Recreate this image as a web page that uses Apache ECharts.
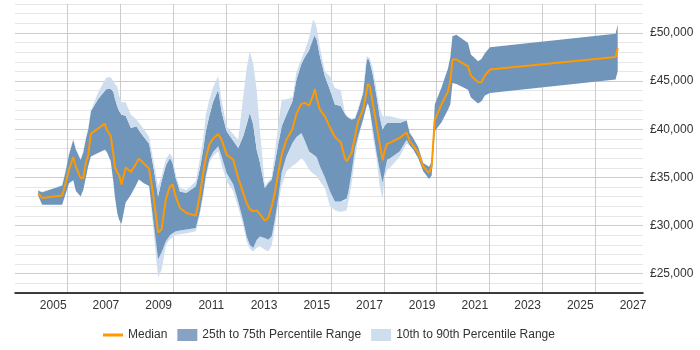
<!DOCTYPE html>
<html>
<head>
<meta charset="utf-8">
<script src="https://cdn.jsdelivr.net/npm/echarts@6/dist/echarts.min.js"></script>
<style>
  html, body { margin: 0; padding: 0; background: #fff; }
  #chart { width: 700px; height: 350px; }
</style>
</head>
<body>
<div id="chart"></div>
<script>
// sample dates (decimal years)
const years = [
  2004.43, 2004.58, 2005.34, 2005.46, 2005.60, 2005.76, 2005.86, 2006.04, 2006.14, 2006.24,
  2006.33, 2006.43, 2006.70, 2006.96, 2007.04, 2007.18, 2007.28, 2007.34, 2007.43, 2007.50,
  2007.59, 2007.75, 2007.95, 2008.16, 2008.25, 2008.44, 2008.64, 2008.82, 2008.98, 2009.11,
  2009.28, 2009.43, 2009.53, 2009.65, 2009.81, 2010.06, 2010.41, 2010.57, 2010.69, 2010.79,
  2010.92, 2011.06, 2011.26, 2011.39, 2011.58, 2011.83, 2012.02, 2012.21, 2012.34, 2012.46,
  2012.59, 2012.72, 2012.84, 2013.03, 2013.16, 2013.29, 2013.41, 2013.54, 2013.67, 2013.85,
  2014.08, 2014.23, 2014.42, 2014.55, 2014.71, 2014.86, 2014.93, 2015.00, 2015.12, 2015.31,
  2015.50, 2015.69, 2015.91, 2016.07, 2016.13, 2016.19, 2016.32, 2016.45, 2016.57, 2016.76,
  2016.89, 2016.94, 2017.01, 2017.14, 2017.27, 2017.39, 2017.50, 2017.58, 2017.67, 2017.77,
  2018.15, 2018.41, 2018.53, 2018.66, 2018.85, 2019.04, 2019.26, 2019.36, 2019.48, 2019.73,
  2019.98, 2020.07, 2020.15, 2020.30, 2020.74, 2020.85, 2021.12, 2021.25, 2021.38, 2021.57,
  2026.34, 2026.42
]
const median = [
  33380, 32860, 33130, 34300, 35800, 37120, 36100, 34940, 34940, 36500,
  37360, 39540, 40060, 40580, 39900, 39330, 37500, 36080, 35500, 35280,
  34250, 36040, 35560, 36500, 36950, 36450, 35900, 32690, 29290, 29570,
  32800, 34070, 34250, 33000, 31830, 31300, 31030, 33200, 35460, 37000,
  38400, 39000, 39510, 38920, 37360, 36840, 34940, 33400, 32340, 31700,
  31470, 31575, 31200, 30500, 30785, 32000, 33380, 35500, 37360, 38920,
  40030, 41620, 42660, 42730, 42450, 43500, 44180, 43200, 42030, 41340,
  40200, 39200, 38640, 37000, 36665, 36900, 37540, 39200, 40820, 42030,
  43900, 44735, 44460, 42500, 40476, 38500, 36770, 37800, 38500, 38575,
  39095, 39680, 38740, 38300, 37540, 36150, 35460, 36150, 41000, 42560,
  43935, 45000, 47230, 47230, 46530, 45565, 44870, 44870, 45565, 46190,
  47500, 48440
]
const p25 = [
  33100, 32170, 32170, 33200, 34400, 34700, 33600, 33030, 33700, 35000,
  36200, 37180, 37530, 37880, 37600, 36700, 34600, 33030, 31300, 30600,
  30200, 32400, 33200, 34300, 34770, 34400, 34100, 30000, 26500, 27200,
  28400, 29000, 29200, 29400, 29500, 29600, 29750, 31500, 33380, 35200,
  36840, 37600, 38225, 37200, 35460, 34300, 32500, 30500, 28875, 28000,
  27670, 28500, 28875, 28700, 28530, 28900, 30610, 32900, 35500, 37200,
  38600, 39200, 39600, 38800, 37700, 37400, 37300, 37100, 36150, 35000,
  33550, 32510, 32510, 32600, 32800, 33380, 35460, 38000, 39300, 41000,
  42380, 42700, 42030, 39800, 37540, 35800, 34420, 35600, 36840, 36950,
  37710, 38920, 38300, 37900, 37000, 35630, 34840, 35200, 39800, 40700,
  42030, 42600, 44800, 44700, 44110, 43300, 42660, 42900, 43500, 43770,
  45150, 46010
]
const p75 = [
  33650, 33450, 34170, 35500, 37400, 38920, 37900, 36840, 37600, 39000,
  40000, 41860, 43100, 44000, 44200, 44200, 43900, 43200, 42380, 41900,
  41500, 41400, 40130, 40300, 39900, 39200, 38500, 35800, 33030, 34600,
  36300, 37010, 36500, 34900, 33500, 33400, 34070, 36000, 37880, 39800,
  41340, 42800, 44110, 41800, 39780, 38800, 38055, 39260, 40500, 41700,
  40500, 37880, 36600, 33900, 34400, 34760, 36500, 38500, 40300, 41500,
  42900, 45150, 46800, 47500, 48200, 50000, 49800, 49300, 47570, 45490,
  44110, 42560, 42400, 41600, 41340, 41200, 41000, 41100, 42000, 43770,
  47050, 47400, 47000, 45490, 43415, 41300, 39960, 40400, 40650, 40650,
  40650, 40920, 39610, 39100, 38150, 36500, 36100, 36600, 42600, 44300,
  46300, 47500, 49650, 49820, 48960, 47750, 47050, 47300, 47900, 48500,
  49900, 50860
]
const p10 = [
  33100, 32170, 32170, 33200, 34400, 34700, 33600, 33030, 33700, 35000,
  36200, 37180, 37530, 37880, 37600, 36700, 34600, 33030, 31300, 30600,
  30200, 32400, 33200, 34300, 34770, 34400, 34100, 29000, 24600, 25400,
  28000, 28600, 28800, 29050, 29100, 29200, 29400, 31200, 33030, 34800,
  36500, 37200, 37710, 36300, 34590, 33600, 31900, 30000, 28355, 27600,
  27320, 27700, 27840, 27500, 27320, 27900, 29910, 32200, 34200, 35600,
  36200, 36500, 37000, 36600, 35800, 35400, 35300, 35140, 34600, 33900,
  32000, 31600, 31410, 31410, 31600, 32340, 34300, 37000, 38920, 41000,
  42380, 42700, 42030, 39000, 37000, 34070, 32790, 35000, 35800, 35980,
  37180, 38500, 38300, 37900, 37000, 35630, 34840, 35200, 39800, 40700,
  42030, 42600, 44800, 44700, 44110, 43300, 42660, 42900, 43500, 43770,
  45150, 46010
]
const p90 = [
  33700, 33500, 34200, 35600, 37500, 39000, 38000, 36900, 37700, 39100,
  40100, 41950, 43800, 45100, 45400, 45400, 45000, 44700, 44450, 43500,
  42800, 42800, 41500, 41000, 40700, 40000, 39200, 36500, 34070, 35100,
  36900, 37540, 37000, 35300, 33900, 33700, 34590, 37000, 39000, 41500,
  43000, 44300, 45490, 43000, 40300, 39500, 38920, 43400, 46300, 48090,
  46800, 44110, 40000, 34100, 34600, 35000, 37540, 40500, 43070, 43100,
  43300, 46000, 47300, 48200, 49500, 51380, 51100, 50500, 48500, 46000,
  45490, 44290, 44040, 41690, 41500, 41300, 41100, 41200, 42200, 44000,
  47570, 47570, 47400, 46190, 44000, 42200, 41340, 41340, 41340, 41340,
  41100, 41000, 39700, 39100, 38150, 36500, 36100, 36600, 42600, 44300,
  46300, 47500, 49650, 49820, 48960, 47750, 47050, 47300, 47900, 48500,
  49900, 50860
]
const yearTicks = [2005, 2007, 2009, 2011, 2013, 2015, 2017, 2019, 2021, 2023, 2025, 2027]

const darkBand = '#6f95bb'
const lightBand = '#cedeee'
const medianColor = '#ff9900'
const xMin = 2003.55
const xMax = 2027.38

// value first, year second, so the stack runs on the salary dimension
const stackPairs = function (arr) {
  return years.map((y, i) => [arr[i], y])
}
const diff = function (hi, lo) {
  return years.map((y, i) => [hi[i] - lo[i], y])
}

const bandSeries = function (name, color, data) {
  return {
    name: name,
    type: 'line',
    stack: 'band',
    symbol: 'none',
    color: color,
    encode: { x: 1, y: 0 },
    lineStyle: { opacity: 0 },
    areaStyle: { color: color, opacity: 1 },
    emphasis: { disabled: true },
    data: data
  }
}

const chart = echarts.init(document.getElementById('chart'))
chart.setOption({
  animation: false,
  textStyle: { fontFamily: 'Liberation Sans, Arial, sans-serif' },
  grid: { left: 15, right: 57, top: 4, bottom: 57, outerBoundsMode: 'none' },
  legend: {
    left: 98,
    top: 324,
    itemWidth: 20,
    itemHeight: 12,
    itemGap: 10,
    textStyle: { fontSize: 12, color: '#333' },
    data: [
      { name: 'Median', icon: 'path://M0,0H20V3H0Z', itemStyle: { color: medianColor } },
      { name: '25th to 75th Percentile Range', icon: 'rect', itemStyle: { color: '#87a2c2' } },
      { name: '10th to 90th Percentile Range', icon: 'rect', itemStyle: { color: lightBand } }
    ]
  },
  xAxis: [
    {
      type: 'value',
      min: xMin,
      max: xMax,
      axisLine: { lineStyle: { color: '#000', width: 1.5 } },
      axisTick: { show: false },
      axisLabel: {
        customValues: yearTicks,
        margin: 7,
        fontSize: 12,
        color: '#333',
        formatter: v => String(v)
      },
      splitLine: { show: false }
    },
    {
      // helper axis shifted by one year, only for the vertical gridlines:
      // its even ticks land on the odd labelled years of the main axis
      type: 'value',
      position: 'bottom',
      min: xMin - 1,
      max: xMax - 1,
      interval: 2,
      axisLine: { show: false },
      axisTick: { show: false },
      axisLabel: { show: false },
      splitLine: {
        show: true,
        showMinLine: false,
        showMaxLine: false,
        lineStyle: { color: '#cccccc', width: 1 }
      }
    }
  ],
  yAxis: {
    type: 'value',
    position: 'right',
    min: 23000,
    max: 53000,
    interval: 1000,
    axisLine: { show: false },
    axisTick: { show: false },
    axisLabel: {
      margin: 7,
      fontSize: 12,
      color: '#333',
      formatter: v => v % 5000 === 0 ? '£' + v.toLocaleString('en-GB') : ''
    },
    splitLine: {
      lineStyle: { color: ['#e6e6e6', '#e6e6e6', '#cccccc', '#e6e6e6', '#e6e6e6'], width: 1 }
    }
  },
  series: [
    {
      name: 'base',
      type: 'line',
      stack: 'band',
      symbol: 'none',
      encode: { x: 1, y: 0 },
      lineStyle: { opacity: 0 },
      emphasis: { disabled: true },
      data: stackPairs(p10)
    },
    bandSeries('10th to 90th Percentile Range', lightBand, diff(p25, p10)),
    bandSeries('25th to 75th Percentile Range', darkBand, diff(p75, p25)),
    bandSeries('10th to 90th Percentile Range', lightBand, diff(p90, p75)),
    {
      name: 'Median',
      type: 'line',
      symbol: 'none',
      color: medianColor,
      lineStyle: { color: medianColor, width: 2 },
      emphasis: { disabled: true },
      data: years.map((y, i) => [y, median[i]])
    }
  ]
})
</script>
</body>
</html>
